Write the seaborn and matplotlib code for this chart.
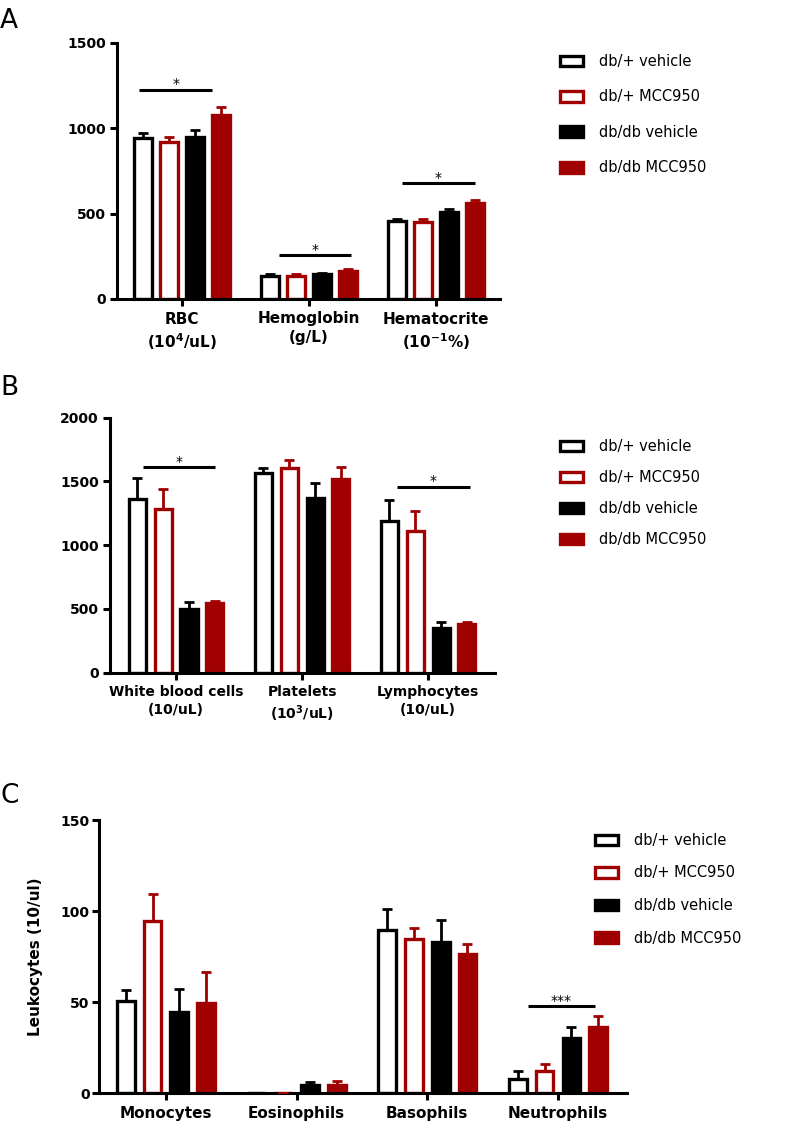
import numpy as np
import pandas as pd
import matplotlib
matplotlib.use("Agg")
import matplotlib.pyplot as plt
from matplotlib.patches import Patch
import seaborn as sns

GROUPS = ["db/+ vehicle", "db/+ MCC950", "db/db vehicle", "db/db MCC950"]
DARK_RED = "#a00000"
GROUP_COLORS = ["black", DARK_RED, "black", DARK_RED]
GROUP_FILLED = [False, False, True, True]

# panel A - red cell indices
A_CATS = ["RBC\n(10$^{4}$/uL)", "Hemoglobin\n(g/L)", "Hematocrite\n(10$^{-1}$%)"]
A_HET_VEH = [941, 136, 456]
A_HET_MCC = [921, 132, 450]
A_DB_VEH = [949, 144, 507]
A_DB_MCC = [1081, 163, 560]
A_HET_VEH_SEM = [33, 10, 15]
A_HET_MCC_SEM = [30, 12, 17]
A_DB_VEH_SEM = [40, 10, 21]
A_DB_MCC_SEM = [45, 12, 21]
# (category index, line height, span left, span right, label)
A_SIG = [(0, 1226, -0.34, 0.24, "*"), (1, 257, -0.24, 0.33, "*"), (2, 680, -0.27, 0.31, "*")]

# panel B - white cells / platelets
B_CATS = ["White blood cells\n(10/uL)", "Platelets\n(10$^{3}$/uL)", "Lymphocytes\n(10/uL)"]
B_HET_VEH = [1366, 1565, 1193]
B_HET_MCC = [1285, 1604, 1110]
B_DB_VEH = [501, 1371, 354]
B_DB_MCC = [548, 1520, 380]
B_HET_VEH_SEM = [162, 39, 160]
B_HET_MCC_SEM = [157, 62, 159]
B_DB_VEH_SEM = [57, 113, 42]
B_DB_MCC_SEM = [18, 97, 21]
B_SIG = [(0, 1613, -0.26, 0.31, "*"), (2, 1459, -0.25, 0.33, "*")]

# panel C - leukocyte subsets
C_CATS = ["Monocytes", "Eosinophils", "Basophils", "Neutrophils"]
C_HET_VEH = [50.4, 0.4, 89.7, 7.8]
C_HET_MCC = [94.3, 0.4, 84.6, 12.0]
C_DB_VEH = [44.4, 4.3, 82.8, 30.6]
C_DB_MCC = [49.3, 4.7, 76.4, 36.3]
C_HET_VEH_SEM = [6.4, 0.0, 11.2, 4.2]
C_HET_MCC_SEM = [14.9, 0.0, 6.0, 4.2]
C_DB_VEH_SEM = [13.1, 1.8, 12.1, 5.7]
C_DB_MCC_SEM = [17.2, 1.8, 5.5, 5.9]
C_SIG = [(3, 47.9, -0.23, 0.28, "***")]

sns.set_style("ticks")
plt.rcParams["font.family"] = ["DejaVu Sans"]
plt.rcParams["mathtext.default"] = "bf"
plt.rcParams.update({"text.color": "black", "axes.labelcolor": "black",
                     "xtick.color": "black", "ytick.color": "black",
                     "axes.edgecolor": "black"})

LW = 2.2


def draw_panel(ax, cats, means, sems, sig, ymax, ystep, xlim, label_size):
    df = pd.DataFrame({
        "category": [c for _ in GROUPS for c in cats],
        "group": [g for g in GROUPS for _ in cats],
        "value": [v for m in means for v in m],
    })
    sns.barplot(data=df, x="category", y="value", hue="group", order=cats,
                hue_order=GROUPS, palette=dict(zip(GROUPS, GROUP_COLORS)),
                saturation=1, width=0.82, gap=0.34, errorbar=None,
                legend=False, ax=ax)

    bars = list(ax.containers)
    for cont, color, filled, m, s in zip(bars, GROUP_COLORS, GROUP_FILLED, means, sems):
        for p in cont:
            p.set_facecolor(color if filled else "white")
            p.set_edgecolor(color)
            p.set_linewidth(2.4)
        xs = [p.get_x() + p.get_width() / 2 for p in cont]
        ax.errorbar(xs, m, yerr=[np.zeros(len(s)), s], fmt="none", ecolor=color,
                    elinewidth=2.0, capsize=3.6, capthick=2.0, zorder=3)

    for ci, y, lo, hi, txt in sig:
        ax.plot([ci + lo, ci + hi], [y, y], color="black", lw=LW, solid_capstyle="butt")
        ax.annotate(txt, xy=(ci + (lo + hi) / 2, y), xytext=(0, 1),
                    textcoords="offset points", ha="center", va="baseline",
                    fontsize=10, color="black")

    ax.set_xlim(*xlim)
    ax.set_ylim(0, ymax)
    ax.set_yticks(np.arange(0, ymax + 1, ystep))
    ax.set_xticks(range(len(cats)), labels=cats)
    for t in ax.get_xticklabels():
        t.set_fontweight("bold")
        t.set_fontsize(label_size)
        t.set_linespacing(1.3)
        t.set_color("black")
    for t in ax.get_yticklabels():
        t.set_fontweight("bold")
        t.set_fontsize(10)
        t.set_color("black")
    ax.set_xlabel("")
    ax.set_ylabel("")
    sns.despine(ax=ax)
    for sp in ("left", "bottom"):
        ax.spines[sp].set_linewidth(LW)
        ax.spines[sp].set_color("black")
    ax.tick_params(axis="both", width=LW, length=5, color="black")
    ax.tick_params(axis="x", pad=4)
    ax.tick_params(axis="y", pad=3)


def add_legend(ax, fig, x, y, spacing):
    handles = [Patch(facecolor=c if f else "white", edgecolor=c, linewidth=2.4)
               for c, f in zip(GROUP_COLORS, GROUP_FILLED)]
    leg = ax.legend(handles, GROUPS, loc="upper left", bbox_to_anchor=(x, y),
                    bbox_transform=fig.transFigure, frameon=False, fontsize=10.5,
                    handlelength=1.6, handleheight=0.75, handletextpad=1.1,
                    labelspacing=spacing, borderpad=0, borderaxespad=0)
    for t in leg.get_texts():
        t.set_color("black")


fig = plt.figure(figsize=(7.87, 11.29), dpi=100)
W, H = 787, 1129


def axes_px(left, right, top, bottom):
    return fig.add_axes([left / W, 1 - bottom / H, (right - left) / W, (bottom - top) / H])


ax_a = axes_px(117, 500, 43, 299)
draw_panel(ax_a, A_CATS, [A_HET_VEH, A_HET_MCC, A_DB_VEH, A_DB_MCC],
           [A_HET_VEH_SEM, A_HET_MCC_SEM, A_DB_VEH_SEM, A_DB_MCC_SEM],
           A_SIG, 1500, 500, (-0.512, 2.504), 11)
add_legend(ax_a, fig, 560 / W, 1 - 54 / H, 1.4)

ax_b = axes_px(110, 495, 417.7, 672.7)
draw_panel(ax_b, B_CATS, [B_HET_VEH, B_HET_MCC, B_DB_VEH, B_DB_MCC],
           [B_HET_VEH_SEM, B_HET_MCC_SEM, B_DB_VEH_SEM, B_DB_MCC_SEM],
           B_SIG, 2000, 500, (-0.524, 2.53), 10)
add_legend(ax_b, fig, 560 / W, 1 - 439 / H, 1.1)

ax_c = axes_px(99.3, 626.7, 820, 1093.3)
draw_panel(ax_c, C_CATS, [C_HET_VEH, C_HET_MCC, C_DB_VEH, C_DB_MCC],
           [C_HET_VEH_SEM, C_HET_MCC_SEM, C_DB_VEH_SEM, C_DB_MCC_SEM],
           C_SIG, 150, 50, (-0.51, 3.526), 11)
ax_c.set_ylabel("Leukocytes (10/ul)", fontweight="bold", fontsize=11, color="black")
ax_c.yaxis.set_label_coords(-0.107, 0.5)
ax_c.tick_params(axis="y", pad=2)
add_legend(ax_c, fig, 595 / W, 1 - 833 / H, 1.2)

for letter, top in (("A", 8), ("B", 375), ("C", 783)):
    fig.text(0.0, 1 - top / H, letter, fontsize=19, ha="left", va="top", color="black")

fig.savefig("out.png", dpi=100)
